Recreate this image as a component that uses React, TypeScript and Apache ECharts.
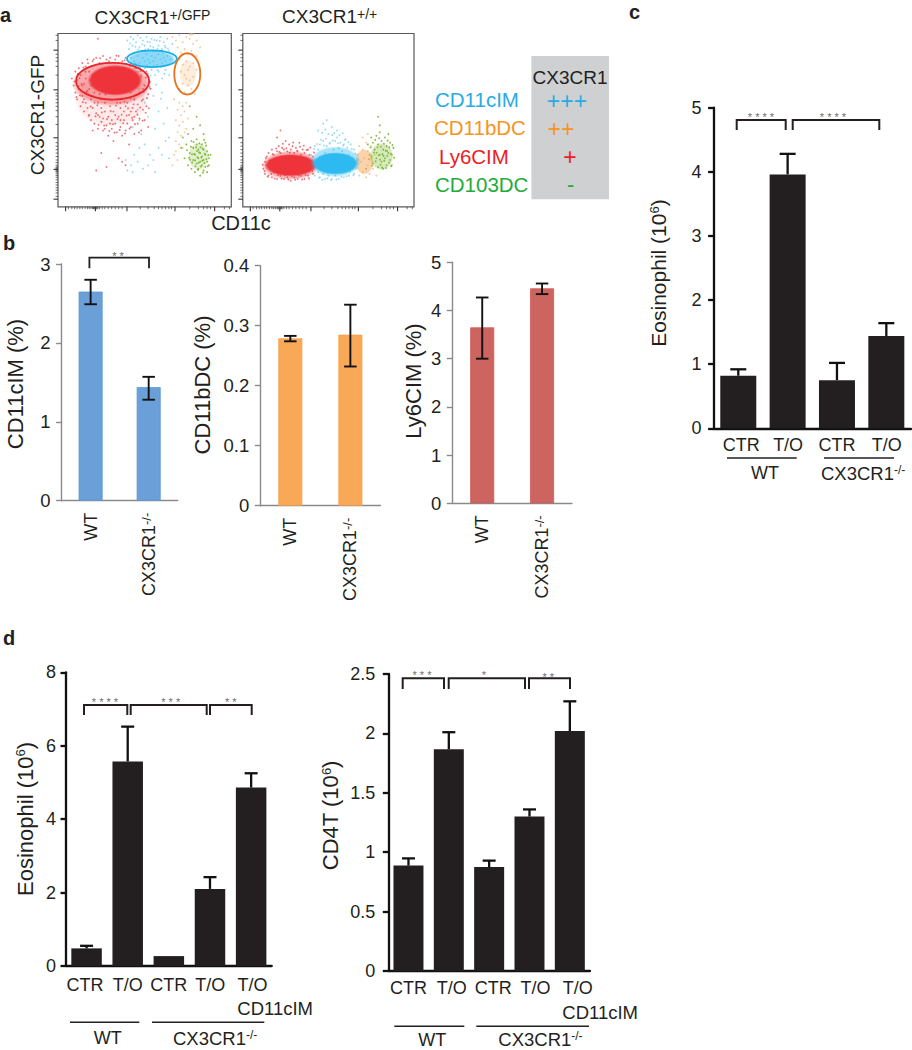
import React, { useEffect, useRef } from "react";
import * as echarts from "echarts";

const FONT = "Liberation Sans";
const INK = "#231f20";

// Panel a: gates [x, y, rx, ry], channel scale 0-100
const gateRed = [31.5, 72.5, 21.1, 10.6];
const gateBlue = [54.2, 85.4, 14.4, 4.8];
const gateOrange = [74.6, 76.7, 7.5, 11.9];

// density blobs [x, y, rx, ry, alpha]
const leftRedDensity = [[31, 62, 22, 16, 0.1], [31, 71, 23, 13, 0.42], [33, 73, 16, 9, 1]];
const leftBlueDensity = [[54, 85, 14, 5, 0.55]];
const leftOrangeDensity = [[75, 77, 5, 8, 0.2]];
const leftGreenDensity = [[81, 29, 6, 8, 0.22]];
const rightRedDensity = [[28, 24, 17, 8.5, 0.4], [28, 24, 15.5, 6.5, 1]];
const rightBlueDensity = [[54, 26, 15, 9, 0.4], [54, 25, 13.5, 6.5, 1]];
const rightOrangeDensity = [[71, 26, 5.5, 7.5, 0.5]];
const rightGreenDensity = [[81, 29, 7, 8, 0.3]];

// event clouds as x,y pairs
const leftRed = [8,74,9,70,10,78,10,66,11,73,11,62,12,80,12,68,13,76,13,58,14,83,14,64,15,71,15,55,16,81,16,60,17,85,17,67,18,53,18,78,19,62,19,50,20,84,20,57,21,66,21,48,22,86,22,54,23,60,23,45,24,83,24,52,25,57,25,49,26,87,26,44,27,55,27,60,28,85,28,47,29,52,29,41,30,58,30,86,31,50,31,45,32,55,32,38,33,85,33,48,34,60,34,43,35,52,35,87,36,57,36,46,37,41,37,84,38,50,38,55,39,44,39,86,40,60,40,48,41,53,41,36,42,83,42,46,43,57,43,50,44,42,44,62,45,55,45,80,46,48,46,59,47,51,47,66,48,44,48,75,49,56,49,62,50,70,50,50,51,78,51,58,52,65,52,46,53,72,23,97,20,44,27,45,25,31,35,28,37,26,22,21,28,23,39,24,14,70,16,74,18,68,20,76,22,70,24,78,24,65,26,72,28,79,28,66,45,70,47,74,44,76,42,66,49,68,15,62,17,57,19,70,21,60,23,53,26,51,30,48,33,53,36,50,39,58,42,55,44,52];
const leftRedMore = [9.5,72.3,11.4,76.6,12.7,64.2,13.6,70.8,14.3,60.4,15.8,77.9,16.4,66.3,17.7,52.6,18.4,73.1,18.9,57.8,19.6,81.2,20.3,63.7,21.6,52.2,21.8,74.5,22.7,58.6,23.4,47.3,24.6,62.1,25.3,54.4,25.8,82.7,26.6,46.9,27.4,64.8,28.3,50.6,29.6,43.7,30.4,55.2,30.9,61.8,31.7,47.6,32.6,42.8,33.4,58.3,34.3,50.7,35.6,44.4,35.8,59.9,36.7,53.1,37.6,48.2,38.3,60.6,38.7,42.3,39.6,52.7,40.4,56.8,41.3,45.1,41.8,62.3,42.7,51.4,43.6,59.2,44.4,47.7,45.3,64.6,45.8,53.2,46.7,42.9,47.4,57.3,48.3,61.2,48.8,49.6,49.4,66.4,50.6,54.3,51.3,62.7,52.4,56.9,53.2,68.1,12.4,74.2,11.8,69.6,10.6,63.4,14.7,80.4,17.3,82.8,20.6,85.1,24.3,85.7,29.4,83.9,33.7,87.2,38.4,84.6,41.6,81.3,44.7,82.4,47.6,78.2,50.7,74.6,52.7,69.3];
const leftBlue = [40,96,41,91,42,98,43,93,44,89,45,95,46,99,47,92,48,90,49,96,50,93,51,98,52,91,53,95,54,97,55,92,56,90,57,96,58,93,59,98,60,91,61,95,62,92,63,97,64,90,66,94,42,86,44,84,46,87,47,83,49,86,50,84,51,88,52,85,53,83,54,87,55,84,56,86,57,82,58,88,59,85,60,83,61,86,62,84,63,87,65,85,66,83,40,78,42,76,44,80,45,74,46,78,48,76,50,80,52,77,54,79,56,76,58,78,60,74,62,79,64,76,41,66,44,62,46,56,47,50,43,46,48,42,50,60,52,52,55,64,56,45,58,55,60,66,61,48,63,57,64,40,50,36,53,30,47,34,44,30,42,24,40,21,39,27,43,20,46,26,49,22,52,24,55,27,56,20,58,34,60,30,62,38,64,28];
const leftBlueMore = [41.6,94.2,43.4,96.7,44.7,92.3,46.3,90.6,47.6,97.4,48.7,93.8,50.4,90.7,51.6,95.2,53.3,92.6,54.7,89.8,55.6,96.3,57.4,91.2,58.7,95.7,60.3,88.9,61.6,93.1,63.4,91.3,43.3,81.6,45.6,77.8,47.4,80.3,49.3,78.4,51.4,81.7,53.3,75.8,55.4,81.3,57.4,78.9,59.3,80.6,61.4,76.7,46.7,68.3,49.4,70.6,53.6,68.2,56.7,70.4,59.4,62.3];
const leftOrange = [66,98,68,96,70,99,72,95,74,98,76,97,78,94,80,96,82,92,69,92,71,89,73,91,75,88,77,90,80,87,70,85,72,82,74,84,76,81,78,83,80,79,71,78,73,76,75,79,74,74,76,73,78,75,72,71,75,70,77,68,70,68,73,66,79,65,67,62,70,60,72,58,74,60,69,56,71,53,73,55,75,51,68,50,70,47,72,49,74,45,69,43,71,41,73,43,68,38,70,36,72,34,67,30,69,27,66,24,68,32,76,99.5,77,99.5,78,99.5];
const leftGreen = [71,34,73,28,74,36,75,24,76,31,77,38,77,22,78,27,78,34,79,20,79,30,80,25,80,36,80,39,81,22,81,28,81,33,82,18,82,26,82,31,83,24,83,29,83,36,84,21,84,27,84,33,85,23,85,30,85,37,86,26,86,20,86,32,87,28,87,24,88,30,75,42,78,45,82,47,80,52,76,58,84,42,72,40];
const leftGreenMore = [74.4,32.6,75.6,28.3,76.7,34.7,77.4,25.6,78.6,30.4,79.3,23.4,79.7,34.3,80.4,28.6,80.7,21.3,81.4,31.4,81.6,36.7,82.4,23.2,82.7,28.4,83.4,33.6,83.6,19.7,84.4,25.3,84.7,30.6,85.4,35.3,85.6,27.4,86.4,23.4,86.7,29.8,80.2,32.2,79.1,26.8,82.2,34.4,83.2,26.6,78.2,37.4,77.3,30.3,76.2,27.2,81.2,25.4,84.2,38.6];
const rightRed = [12,22,13,26,13,19,14,24,14,29,15,18,15,31,16,22,16,27,17,17,17,33,18,20,18,30,19,25,20,16,20,32,21,35,22,18,22,31,23,34,24,16,24,33,25,38,26,17,26,32,27,36,28,15,28,33,29,35,30,17,30,31,31,34,32,16,32,32,33,37,34,18,34,30,35,33,36,16,36,31,37,28,38,18,38,33,39,21,39,30,40,25,41,19,41,29,42,23,43,27,22,44,20,40];
const rightRedMore = [11.6,24.3,12.7,20.6,13.4,28.1,14.6,17.4,15.4,26.3,16.6,18.9,17.4,30.4,18.6,16.3,19.4,33.6,20.6,18.4,21.4,31.7,22.6,16.2,23.4,36.4,24.6,18.3,25.4,33.8,26.6,15.7,27.4,31.2,28.6,17.6,29.4,37.1,30.6,15.6,31.6,32.3,32.6,18.1,33.4,34.6,34.6,15.8,35.6,35.2,36.6,18.4,37.4,32.7,38.6,16.4,39.4,34.2,40.6,20.7,41.6,31.3,42.6,25.4];
const rightBlue = [40,30,41,22,42,35,42,18,43,27,44,20,44,33,45,36,45,17,46,24,47,38,47,19,48,31,48,16,49,35,50,42,50,18,51,30,51,37,52,16,52,46,53,33,54,18,54,38,55,40,56,16,56,34,57,20,57,37,58,32,59,17,59,36,60,39,60,21,61,34,62,18,62,30,63,36,64,22,64,28,65,33,65,19,66,26,67,30,44,44,47,48,49,50,55,44];
const rightBlueMore = [41.6,33.4,43.4,36.2,44.6,16.8,45.6,38.7,46.4,15.6,47.4,35.2,48.6,39.3,49.4,16.4,50.6,36.4,51.6,15.4,52.6,38.2,53.4,42.6,54.6,15.7,55.6,36.7,56.4,41.3,57.6,17.3,58.6,35.4,59.6,38.6,60.6,17.6,61.6,37.2,62.6,20.4,63.6,33.3,64.6,18.2,65.6,30.6,66.6,22.4,67.4,27.2,48.2,44.6,52.2,41.4,46.3,42.7,58.3,42.4];
const rightOrange = [66,22,67,30,68,18,68,35,69,26,70,20,70,33,71,28,72,17,72,37,73,24,73,32,74,19,75,28,75,35,76,22,77,30,78,18,70,40,73,42];
const rightGreen = [72,22,73,36,74,30,75,40,76,25,76,37,77,33,78,28,78,41,79,23,79,36,80,30,80,43,81,26,81,38,82,22,82,33,83,28,83,40,84,24,84,35,85,31,85,42,86,27,86,37,87,30,87,24,88,34,79,52,80,47];
const rightGreenMore = [73.6,27.4,74.6,34.2,75.4,23.7,76.6,31.3,77.4,38.6,77.6,26.2,78.6,34.4,79.4,29.7,79.6,39.6,80.4,24.3,80.6,34.6,81.4,22.6,81.6,30.4,82.4,36.4,82.6,26.6,83.4,32.3,83.6,22.4,84.4,29.4,84.6,38.2,85.4,25.4,85.6,34.3,86.4,30.6,86.6,23.4,87.4,35.6,88.4,28.3,75.2,29.2,78.2,31.2,80.2,27.2,82.2,29.4,84.2,32.2];

const flowMajorTicks = [4.4, 21.6, 39.8, 67.5, 90.4];
const flowMinorTicks = [6,8,9.6,11,12.6,14,15.6,17,18,19,20,20.5,21,22,22.5,23,24,25.5,27,29,31,33,35,37,47.5,52,55.5,58,60,62,64,65.5,76,81,84,86,88,96,99];

// Panel b
const bCategories = ["WT", "CX3CR1-/-"];
const cd11cValues = [2.65, 1.44];
const cd11cErrLow = [2.49, 1.28];
const cd11cErrHigh = [2.8, 1.57];
const cd11bValues = [0.279, 0.285];
const cd11bErrLow = [0.274, 0.232];
const cd11bErrHigh = [0.283, 0.335];
const ly6cValues = [3.65, 4.46];
const ly6cErrLow = [3.0, 4.34];
const ly6cErrHigh = [4.27, 4.56];

// Panel c
const cCategories = ["CTR", "T/O", "CTR ", "T/O "];
const cValues = [0.82, 3.96, 0.75, 1.44];
const cErrHigh = [0.92, 4.28, 1.02, 1.64];

// Panel d
const dCategories = ["CTR", "T/O", "CTR ", "T/O ", "T/O  "];
const eosValues = [0.48, 5.57, 0.27, 2.1, 4.86];
const eosErrHigh = [0.55, 6.52, 0.27, 2.42, 5.25];
const cd4Values = [0.887, 1.866, 0.875, 1.3, 2.02];
const cd4ErrHigh = [0.948, 2.01, 0.929, 1.36, 2.27];

const pairs = (a: number[]) => {
  const out: number[][] = [];
  for (let i = 0; i + 1 < a.length; i += 2) out.push([a[i], a[i + 1]]);
  return out;
};

function buildOption() {
  const grid: any[] = [];
  const xAxis: any[] = [];
  const yAxis: any[] = [];
  const series: any[] = [];
  const graphic: any[] = [];

  const text = (x: number, y: number, str: string, o: any = {}) =>
    graphic.push({
      type: "text", x, y, rotation: o.rotate ? Math.PI / 2 : 0, z: 50, silent: true,
      style: {
        text: str, fill: o.color || INK, fontFamily: FONT, fontSize: o.size || 18,
        fontWeight: o.weight || "normal", align: o.align || "center", verticalAlign: "middle",
        rich: o.rich,
      },
    });
  const supRich = (size: number, sup: number, color = INK, lift = 5) => ({
    a: { fontSize: size, fontFamily: FONT, fill: color, color },
    s: { fontSize: sup, fontFamily: FONT, fill: color, color, verticalAlign: "top", padding: [0, 0, lift, 0] },
  });
  const line = (pts: number[][], color = INK, w = 1.5) =>
    graphic.push({ type: "polyline", z: 50, silent: true, shape: { points: pts }, style: { stroke: color, lineWidth: w, fill: "none" } });
  const bracket = (x1: number, x2: number, top: number, bot: number, w = 2) =>
    line([[x1, bot], [x1, top], [x2, top], [x2, bot]], INK, w);
  const stars = (x: number, y: number, s: string) => text(x, y + 3, s, { size: 11, color: "#6d6e71" });

  // flow panel
  const flow = (box: number[], clouds: any[], gates: any[]) => {
    const i = grid.length;
    grid.push({ left: box[0], top: box[1], width: box[2], height: box[3], show: true, borderColor: "#58595b", borderWidth: 1.2, backgroundColor: "#fff", z: 1 });
    xAxis.push({ gridIndex: i, type: "value", min: 0, max: 100, show: false });
    yAxis.push({ gridIndex: i, type: "value", min: 0, max: 100, show: false });
    const common = { xAxisIndex: i, yAxisIndex: i, silent: true };
    clouds.forEach((c) => {
      series.push({
        ...common, type: "scatter", z: 2, symbolSize: c.size || 1.8, data: pairs(c.points),
        itemStyle: { color: c.dot, opacity: 0.85 },
      });
      series.push({
        ...common, type: "custom", coordinateSystem: "cartesian2d", clip: false, z: 3, data: c.density,
        renderItem: (_: any, api: any) => {
          const p = api.coord([api.value(0), api.value(1)]);
          const s = api.size([api.value(2), api.value(3)]);
          const a = api.value(4);
          return {
            type: "ellipse", shape: { cx: p[0], cy: p[1], rx: s[0], ry: s[1] },
            style: {
              fill: new echarts.graphic.RadialGradient(0.5, 0.5, 0.5, [
                { offset: 0, color: c.color },
                { offset: 0.86, color: c.color },
                { offset: 1, color: c.fade },
              ]),
              opacity: a,
            },
          };
        },
      });
    });
    gates.forEach((g) => {
      series.push({
        ...common, type: "custom", coordinateSystem: "cartesian2d", z: 4, data: [g.value],
        renderItem: (_: any, api: any) => {
          const p = api.coord([api.value(0), api.value(1)]);
          const s = api.size([api.value(2), api.value(3)]);
          return { type: "ellipse", shape: { cx: p[0], cy: p[1], rx: s[0], ry: s[1] }, style: { fill: "none", stroke: g.color, lineWidth: 1.8 } };
        },
      });
    });
    const tickData = [
      ...flowMajorTicks.map((v) => [v, 4.5, 1.1]),
      ...flowMinorTicks.map((v) => [v, 2.4, 0.7]),
    ];
    series.push({
      ...common, type: "custom", coordinateSystem: "cartesian2d", clip: false, z: 4, data: tickData,
      renderItem: (_: any, api: any) => {
        const v = api.value(0), len = api.value(1), w = api.value(2);
        const bx = api.coord([v, 0]);
        const ly = api.coord([0, v]);
        const st = { stroke: "#333", lineWidth: w };
        return {
          type: "group",
          children: [
            { type: "line", shape: { x1: bx[0], y1: bx[1], x2: bx[0], y2: bx[1] + len }, style: st },
            { type: "line", shape: { x1: ly[0], y1: ly[1], x2: ly[0] - len, y2: ly[1] }, style: st },
          ],
        };
      },
    });
  };

  const RED = { color: "rgba(238,52,58,1)", fade: "rgba(238,52,58,0)", dot: "#f0595e" };
  const BLUE = { color: "rgba(44,186,240,1)", fade: "rgba(44,186,240,0)", dot: "#86d3f2" };
  const ORANGE = { color: "rgba(246,166,88,1)", fade: "rgba(246,166,88,0)", dot: "#f8bf8a" };
  const GREEN = { color: "rgba(122,184,40,1)", fade: "rgba(122,184,40,0)", dot: "#73b021" };

  flow([58, 33.5, 173.3, 173.3], [
    { ...BLUE, density: leftBlueDensity, points: [...leftBlue, ...leftBlueMore] },
    { ...ORANGE, density: leftOrangeDensity, points: leftOrange },
    { ...GREEN, density: leftGreenDensity, points: [...leftGreen, ...leftGreenMore] },
    { ...RED, density: leftRedDensity, points: [...leftRed, ...leftRedMore] },
  ], [
    { value: gateRed, color: "#e8232a" },
    { value: gateBlue, color: "#1cb0e8" },
    { value: gateOrange, color: "#e8731c" },
  ]);
  flow([242.8, 33.5, 171.2, 173.3], [
    { ...ORANGE, density: rightOrangeDensity, points: rightOrange },
    { ...GREEN, density: rightGreenDensity, points: [...rightGreen, ...rightGreenMore] },
    { ...RED, density: rightRedDensity, points: [...rightRed, ...rightRedMore] },
    { ...BLUE, density: rightBlueDensity, points: [...rightBlue, ...rightBlueMore] },
  ], []);

  // bar panels
  const barPanel = (o: any) => {
    const i = grid.length;
    grid.push({ left: o.x0, top: o.yTop, width: o.x1 - o.x0, height: o.y0 - o.yTop, show: false });
    const shift: number[] = o.shift || [];
    const rich: any = { a: { fontSize: o.catSize, fontFamily: FONT, color: INK }, s: { fontSize: 13, fontFamily: FONT, color: INK, verticalAlign: "top", padding: [0, 0, 3, 0] } };
    o.cats.forEach((_: string, k: number) => {
      const d = shift[k] || 0;
      rich["p" + k] = { fontSize: o.catSize, fontFamily: FONT, color: INK, padding: d >= 0 ? [0, 0, 0, 2 * d] : [0, -2 * d, 0, 0] };
    });
    xAxis.push({
      gridIndex: i, type: "category", data: o.cats,
      axisLine: { onZero: false, lineStyle: { color: o.axisColor, width: o.axisW } },
      axisTick: { alignWithLabel: !o.vertical, length: o.vertical ? 6 : 5, lineStyle: { color: o.axisColor, width: o.axisW } },
      axisLabel: {
        interval: 0, rotate: o.vertical ? 90 : 0, margin: o.catMargin, hideOverlap: false,
        formatter: (v: string, idx: number) => o.vertical
          ? (v.endsWith("-/-") ? `{a|${v.slice(0, -3)}}{s|-/-}` : `{a|${v}}`)
          : `{p${idx}|${v.trim()}}`,
        rich,
      },
    });
    yAxis.push({
      gridIndex: i, type: "value", min: 0, max: o.max, interval: o.step,
      splitLine: { show: false },
      axisLine: { show: true, lineStyle: { color: o.axisColor, width: o.axisW } },
      axisTick: { show: true, length: 5.5, lineStyle: { color: o.axisColor, width: o.axisW } },
      axisLabel: { margin: o.labelMargin, fontSize: o.valSize, fontFamily: FONT, color: INK },
    });
    series.push({
      type: "bar", xAxisIndex: i, yAxisIndex: i, barWidth: o.barW, data: o.values, z: 2, silent: true,
      itemStyle: { color: o.color, borderColor: o.border, borderWidth: o.border ? 0.8 : 0 },
    });
    const errData = o.values.map((_: number, k: number) => [k, o.low ? o.low[k] : o.values[k], o.high[k]]);
    series.push({
      type: "custom", coordinateSystem: "cartesian2d", xAxisIndex: i, yAxisIndex: i, z: 3, silent: true, data: errData, clip: false,
      renderItem: (_: any, api: any) => {
        const hi = api.coord([api.value(0), api.value(2)]);
        const lo = api.coord([api.value(0), api.value(1)]);
        if (Math.abs(hi[1] - lo[1]) < 0.5) return { type: "group", children: [] };
        const st = { stroke: "#111", lineWidth: o.errW };
        const c = o.cap / 2;
        const children: any[] = [
          { type: "line", shape: { x1: hi[0], y1: hi[1], x2: hi[0], y2: lo[1] }, style: st },
          { type: "line", shape: { x1: hi[0] - c, y1: hi[1], x2: hi[0] + c, y2: hi[1] }, style: st },
        ];
        if (o.low) children.push({ type: "line", shape: { x1: lo[0] - c, y1: lo[1], x2: lo[0] + c, y2: lo[1] }, style: st });
        return { type: "group", children };
      },
    });
  };

  const bCommon = { cats: bCategories, vertical: true, axisColor: "#8a8a8a", axisW: 1.4, barW: 24, catSize: 18, catMargin: 12, labelMargin: 11, valSize: 18.5, errW: 1.9, cap: 12.5 };
  barPanel({ ...bCommon, x0: 61.6, x1: 177.7, y0: 500.7, yTop: 264, max: 3, step: 1, values: cd11cValues, low: cd11cErrLow, high: cd11cErrHigh, color: "#6a9fd8", border: "#5b9bd5" });
  barPanel({ ...bCommon, x0: 260.3, x1: 380.4, y0: 505.7, yTop: 265.7, max: 0.4, step: 0.1, values: cd11bValues, low: cd11bErrLow, high: cd11bErrHigh, color: "#f9a858", border: "#f7a24c" });
  barPanel({ ...bCommon, x0: 452.3, x1: 572, y0: 503.3, yTop: 262.3, max: 5, step: 1, values: ly6cValues, low: ly6cErrLow, high: ly6cErrHigh, color: "#cd645f", border: "#cf5a55" });

  const blackCommon = { axisColor: "#111", axisW: 2.3, color: INK, catSize: 18, valSize: 18, errW: 2.3, catMargin: 8 };
  barPanel({ ...blackCommon, x0: 713.6, x1: 911, y0: 428.3, yTop: 107.7, max: 5, step: 1, cats: cCategories, values: cValues, high: cErrHigh, barW: 36, cap: 16, labelMargin: 12, shift: [3, 0.5, 0, 0.5] });
  barPanel({ ...blackCommon, x0: 66, x1: 271.7, y0: 966, yTop: 672.3, max: 8, step: 2, cats: dCategories, values: eosValues, high: eosErrHigh, barW: 30.5, cap: 13, labelMargin: 10, catMargin: 10, shift: [-1.7, 0, 0, 0.3, 1.3] });
  barPanel({ ...blackCommon, x0: 388.3, x1: 590, y0: 971, yTop: 674, max: 2.5, step: 0.5, cats: dCategories, values: cd4Values, high: cd4ErrHigh, barW: 30, cap: 13, labelMargin: 13, shift: [0, 3, 4, 6, 8] });

  // panel letters
  text(0, 15, "a", { weight: "bold", size: 20, align: "left" });
  text(3, 243, "b", { weight: "bold", size: 20, align: "left" });
  text(629, 12, "c", { weight: "bold", size: 20, align: "left" });
  text(3, 638, "d", { weight: "bold", size: 20, align: "left" });

  // panel a texts
  text(94.6, 17, "{a|CX3CR1}{s|+/GFP}", { align: "left", rich: supRich(19, 14) });
  text(282, 16, "{a|CX3CR1}{s|+/+}", { align: "left", rich: supRich(19, 14) });
  text(37, 115, "CX3CR1-GFP", { rotate: true, size: 19 });
  text(241, 223, "CD11c", { size: 20 });

  graphic.push({ type: "rect", z: 40, silent: true, shape: { x: 531.4, y: 56, width: 77.6, height: 143.3 }, style: { fill: "#cfd0d2" } });
  text(570, 77, "CX3CR1", { size: 19 });
  text(435, 99, "CD11cIM", { size: 20.5, color: "#29abe2", align: "left" });
  text(434, 127, "CD11bDC", { size: 20.5, color: "#f7931e", align: "left" });
  text(439, 156.7, "Ly6CIM", { size: 20.5, color: "#ed1c24", align: "left" });
  text(435, 184, "CD103DC", { size: 20.5, color: "#22ac38", align: "left" });
  text(567, 101, "+++", { size: 23, color: "#29abe2" });
  text(561, 128.7, "++", { size: 23, color: "#f7931e" });
  text(570, 157, "+", { size: 23, color: "#ed1c24" });
  text(570.7, 184, "-", { size: 22, color: "#22ac38" });

  // axis titles panel b
  text(15, 384, "CD11cIM (%)", { rotate: true, size: 22 });
  text(202.7, 385, "CD11bDC (%)", { rotate: true, size: 22 });
  text(413, 381, "Ly6CIM (%)", { rotate: true, size: 22 });
  bracket(89.4, 149, 257.7, 268.3, 1.8);
  stars(118, 252.7, "* *");

  // panel c
  text(658, 273, "{a|Eosinophil (10}{s|6}{a|)}", { rotate: true, rich: supRich(21, 13, INK, 5) });
  bracket(736.7, 785.7, 120, 130);
  bracket(792.7, 879.3, 120, 130);
  stars(761, 114, "* * * *");
  stars(833, 114, "* * * *");
  line([[727, 458], [796.7, 458]], INK, 1.5);
  line([[824, 458], [894, 458]], INK, 1.5);
  text(765, 473, "WT", { size: 18 });
  text(821, 473, "{a|CX3CR1}{s|-/-}", { align: "left", rich: supRich(18.5, 12, INK, 4) });

  // panel d left
  text(25, 819, "{a|Eosinophil (10}{s|6}{a|)}", { rotate: true, rich: supRich(22, 13, INK, 5) });
  bracket(84, 127.3, 705, 715);
  bracket(130.7, 206.7, 705, 715);
  bracket(210, 251.7, 705, 715);
  stars(105, 699, "* * * *");
  stars(170.7, 699, "* * *");
  stars(230.7, 699, "* *");
  text(237.3, 1008, "CD11cIM", { size: 18.5, align: "left" });
  line([[70, 1022.3], [139.3, 1022.3]], INK, 1.5);
  line([[152, 1022.3], [264.3, 1022.3]], INK, 1.5);
  text(107.7, 1038, "WT", { size: 18 });
  text(173, 1038, "{a|CX3CR1}{s|-/-}", { align: "left", rich: supRich(18.5, 12, INK, 4) });

  // panel d right
  text(330.7, 815.5, "{a|CD4T (10}{s|6}{a|)}", { rotate: true, rich: supRich(22, 13, INK, 5) });
  bracket(402.7, 444, 678.3, 689);
  bracket(448.7, 525, 678.3, 689);
  bracket(529, 570, 678.3, 689);
  stars(422, 672.3, "* * *");
  stars(484, 672, "*");
  stars(548.3, 674, "* *");
  text(562.3, 1012, "CD11cIM", { size: 18.5, align: "left" });
  line([[394.3, 1026.3], [464.3, 1026.3]], INK, 1.5);
  line([[476.3, 1026.3], [589, 1026.3]], INK, 1.5);
  text(432.3, 1040, "WT", { size: 18 });
  text(498.3, 1039.5, "{a|CX3CR1}{s|-/-}", { align: "left", rich: supRich(18.5, 12, INK, 4) });

  return { animation: false, backgroundColor: "#fff", grid, xAxis, yAxis, series, graphic };
}

export default function App() {
  const ref = useRef<HTMLDivElement>(null);
  useEffect(() => {
    const chart = echarts.init(ref.current!, null, { renderer: "svg" });
    chart.setOption(buildOption() as any);
    return () => chart.dispose();
  }, []);
  return <div ref={ref} style={{ position: "absolute", left: 0, top: 0, width: 912, height: 1050 }} />;
}
